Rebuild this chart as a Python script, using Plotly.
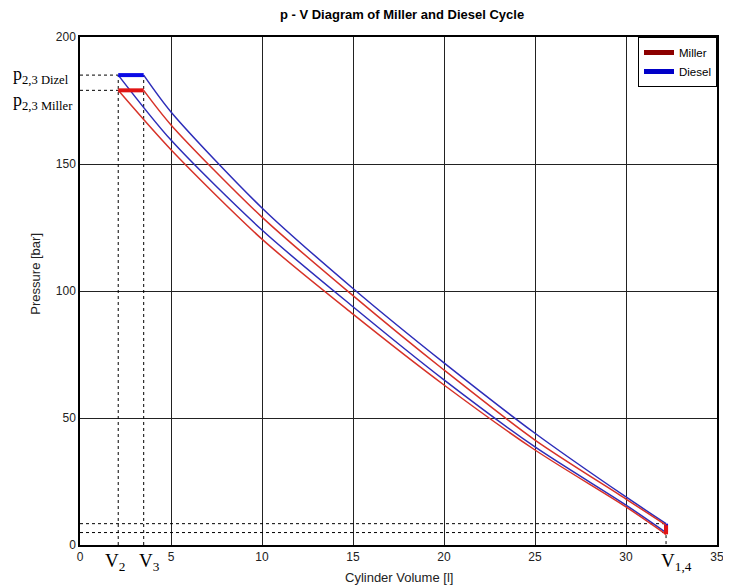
import plotly.graph_objects as go

# ---- data ----
V2 = 2.1          # end of compression [l]
V3 = 3.5          # end of constant-pressure heat addition [l]
V1 = 32.2         # bottom dead centre [l]

p23_diesel = 185.0
p23_miller = 179.0
p1_diesel = 4.9
p1_miller = 4.2
p4_diesel = 8.4
p4_miller = 7.8

vol_mid = [5, 10, 15, 20, 25, 30]
diesel_expansion = [170.5, 132.7, 101.0, 71.7, 44.0, 18.9]
miller_expansion = [165.4, 129.1, 98.2, 68.9, 41.3, 18.1]
diesel_compression = [159.4, 124.0, 93.8, 65.0, 38.6, 15.7]
miller_compression = [155.6, 120.4, 90.9, 63.0, 37.4, 15.0]

x_ticks = [0, 5, 10, 15, 20, 25, 30, 35]
y_ticks = [0, 50, 100, 150, 200]

BLUE = "rgb(45,45,185)"
RED = "rgb(215,50,40)"
BLUE_THICK = "rgb(10,10,230)"
RED_THICK = "rgb(225,20,20)"

fig = go.Figure()

# reference dotted lines
dot = dict(color="black", width=1, dash="dot")
p_low_ref = [p4_diesel, p1_diesel]
for p in [p23_diesel, p23_miller]:
    fig.add_trace(go.Scatter(x=[0, V2], y=[p, p], mode="lines", line=dot, showlegend=False, hoverinfo="skip"))
for v in [V2, V3]:
    fig.add_trace(go.Scatter(x=[v, v], y=[0, p23_diesel], mode="lines", line=dot, showlegend=False, hoverinfo="skip"))
for p in p_low_ref:
    fig.add_trace(go.Scatter(x=[0, V1], y=[p, p], mode="lines", line=dot, showlegend=False, hoverinfo="skip"))
fig.add_trace(go.Scatter(x=[V1, V1], y=[-2, p1_miller], mode="lines", line=dot, showlegend=False,
                         hoverinfo="skip", cliponaxis=False))


def cycle(p23, p1, p4, exp, comp, thin, thick):
    # compression 1 -> 2
    fig.add_trace(go.Scatter(x=[V1] + vol_mid[::-1] + [V2], y=[p1] + comp[::-1] + [p23],
                             mode="lines", line=dict(color=thin, width=1.5, shape="spline", smoothing=0.8),
                             showlegend=False, hoverinfo="skip"))
    # expansion 3 -> 4
    fig.add_trace(go.Scatter(x=[V3] + vol_mid + [V1], y=[p23] + exp + [p4],
                             mode="lines", line=dict(color=thin, width=1.5, shape="spline", smoothing=0.8),
                             showlegend=False, hoverinfo="skip"))
    # constant pressure 2 -> 3
    fig.add_trace(go.Scatter(x=[V2, V3], y=[p23, p23], mode="lines", line=dict(color=thick, width=4),
                             showlegend=False, hoverinfo="skip"))
    # constant volume 4 -> 1
    fig.add_trace(go.Scatter(x=[V1, V1], y=[p4, p1], mode="lines", line=dict(color=thick, width=4),
                             showlegend=False, hoverinfo="skip"))


cycle(p23_diesel, p1_diesel, p4_diesel, diesel_expansion, diesel_compression, BLUE, BLUE_THICK)
cycle(p23_miller, p1_miller, p4_miller, miller_expansion, miller_compression, RED, RED_THICK)

# legend entries
fig.add_trace(go.Scatter(x=[None], y=[None], mode="lines", name="Miller", line=dict(color="rgb(140,0,0)", width=5)))
fig.add_trace(go.Scatter(x=[None], y=[None], mode="lines", name="Diesel", line=dict(color="rgb(0,0,200)", width=5)))

serif = dict(family="Liberation Serif, Times New Roman, serif", size=19, color="black")
ann = []
for v, t, xs in [(V2, "V<sub>2</sub>", -3), (V3, "V<sub>3</sub>", 6), (V1, "V<sub>1,4</sub>", 10)]:
    ann.append(dict(x=v, y=-0.034, xref="x", yref="paper", text=t, showarrow=False,
                    xanchor="center", yanchor="middle", xshift=xs, font=serif))
for p, t, ys in [(p23_diesel, "p<sub>2,3 Dizel</sub>", 0), (p23_miller, "p<sub>2,3 Miller</sub>", -11)]:
    ann.append(dict(x=-0.108, y=p, xref="paper", yref="y", text=t, showarrow=False,
                    xanchor="left", yanchor="middle", yshift=ys, font=dict(serif, size=18)))
ann.append(dict(x=0.5, y=-0.063, xref="paper", yref="paper", text="Cylinder Volume [l]", showarrow=False,
                xanchor="center", yanchor="middle", font=dict(family="Liberation Sans, Arial", size=13, color="#222")))
ann.append(dict(x=-0.07, y=0.535, xref="paper", yref="paper", text="Pressure [bar]", showarrow=False, textangle=-90,
                xanchor="center", yanchor="middle", font=dict(family="Liberation Sans, Arial", size=13, color="#222")))

# the page body adds an 8px offset, so the figure is 8px smaller and the left/top margins 8px tighter
fig.update_layout(
    width=723, height=578,
    margin=dict(l=72, r=7, t=29, b=41),
    paper_bgcolor="white", plot_bgcolor="white",
    font=dict(family="Liberation Sans, Arial, sans-serif", size=12, color="#222"),
    title=dict(text="<b>p - V Diagram of Miller and Diesel Cycle</b>", x=0.545, xanchor="center",
               y=0.997, yanchor="top", yref="container", font=dict(size=13, color="black")),
    xaxis=dict(range=[0, 35], tickvals=x_ticks, showgrid=True, gridcolor="#222", gridwidth=1,
               zeroline=False, showline=True, linecolor="black", linewidth=1.5, mirror=True, ticks=""),
    yaxis=dict(range=[0, 200], tickvals=y_ticks, showgrid=True, gridcolor="#222", gridwidth=1,
               zeroline=False, showline=True, linecolor="black", linewidth=1.5, mirror=True, ticks=""),
    legend=dict(x=1.0, y=1.0, xanchor="right", yanchor="top", bordercolor="black", borderwidth=1,
                bgcolor="white", itemwidth=30, font=dict(size=11.5, color="black"), tracegroupgap=0),
    annotations=ann,
)

fig.write_html("out.html")
